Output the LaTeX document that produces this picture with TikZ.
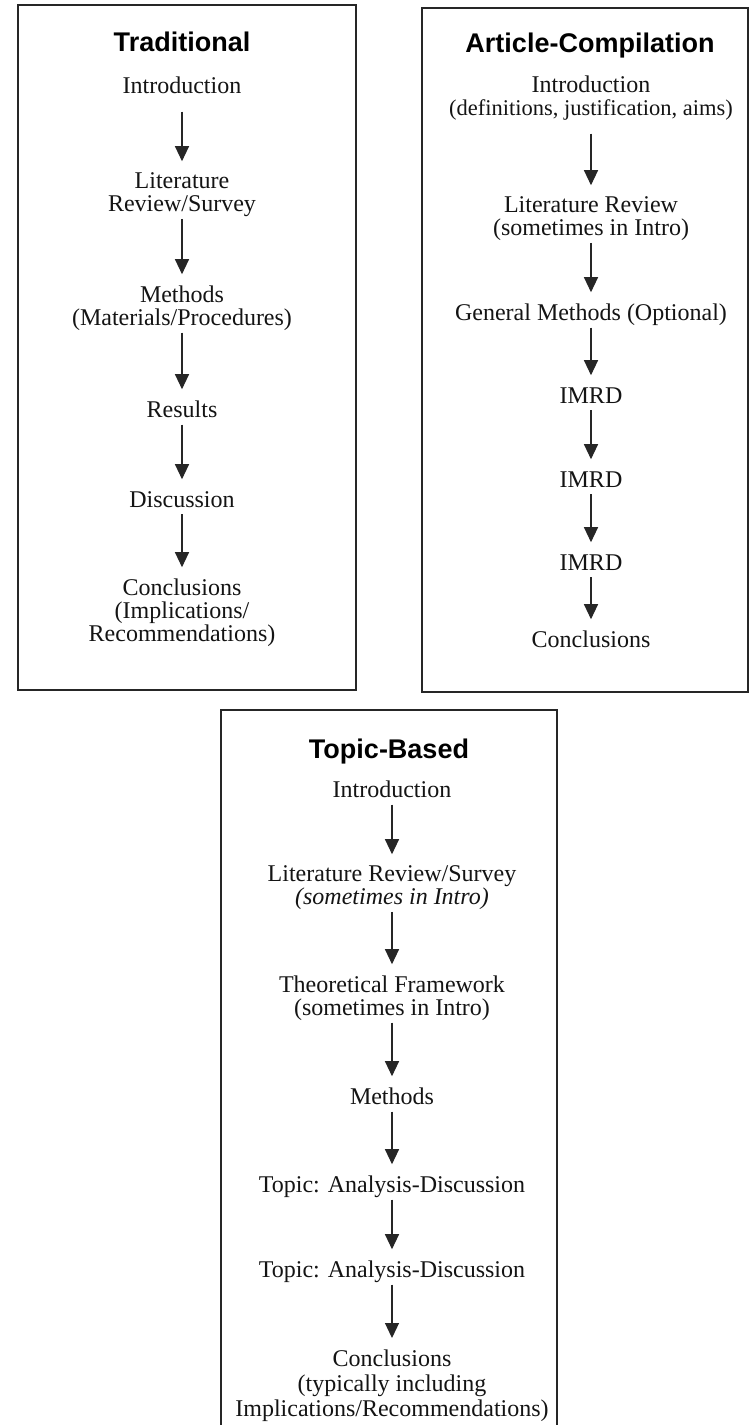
\documentclass[tikz,border=0pt]{standalone}
\usepackage{fontspec}
\setmainfont{Liberation Serif}
\newfontfamily\titlefont{Liberation Sans}
\usetikzlibrary{arrows.meta}
\begin{document}
\begin{tikzpicture}[x=1pt,y=-1pt,
  frame/.style={draw=black!85, line width=1.2pt},
  title/.style={font=\titlefont\bfseries\fontsize{27}{30}\selectfont, anchor=base, inner sep=0pt, text=black},
  item/.style={font=\fontsize{24}{23}\selectfont, align=center, anchor=north, inner sep=0pt, text=black!92,
    execute at begin node=\strut, execute at end node=\strut},
  loose/.style={font=\fontsize{24}{25}\selectfont},
  link/.style={draw=black!85, line width=1.2pt, -{Triangle[width=14pt,length=15pt]}, shorten >=11.5pt},
  farlink/.style={link, shorten <=11pt}]
\useasboundingbox (0,0) rectangle (751,1425);
\fill[white] (0,0) rectangle (751,1425);
\begin{scope}
\clip (0,0) rectangle (751,1425);
% frames
\draw[frame] (18,5) rectangle (356,690);
\draw[frame] (422,8) rectangle (748,692);
\draw[frame] (221,1445) -- (221,710) -- (557,710) -- (557,1445);

% Traditional
\node[title] (Lt) at (182,51) {Traditional};
\node[item] (L1) at (182,76.7) {Introduction};
\node[item] (L2) at (182,172.7) {Literature\\Review/Survey};
\node[item] (L3) at (182,285.7) {Methods\\(Materials/Procedures)};
\node[item] (L4) at (182,400.7) {Results};
\node[item] (L5) at (182,490.7) {Discussion};
\node[item] (L6) at (182,578.7) {Conclusions\\(Implications/\\Recommendations)};
\draw[farlink] (L1.south) -- (L2.north);
\draw[link] (L2.south) -- (L3.north);
\draw[link] (L3.south) -- (L4.north);
\draw[link] (L4.south) -- (L5.north);
\draw[link] (L5.south) -- (L6.north);

% Article-Compilation
\node[title] (Rt) at (590,52) {Article-Compilation};
\node[item] (R1) at (591,75.7) {Introduction\\{\fontsize{22.5}{23}\selectfont(definitions, justification, aims)}};
\node[item] (R2) at (591,196.7) {Literature Review\\(sometimes in Intro)};
\node[item] (R3) at (591,303.7) {General Methods (Optional)};
\node[item] (R4) at (591,386.7) {IMRD};
\node[item] (R5) at (591,470.7) {IMRD};
\node[item] (R6) at (591,553.7) {IMRD};
\node[item] (R7) at (591,630.7) {Conclusions};
\draw[farlink] (R1.south) -- (R2.north);
\draw[link] (R2.south) -- (R3.north);
\draw[link] (R3.south) -- (R4.north);
\draw[link] (R4.south) -- (R5.north);
\draw[link] (R5.south) -- (R6.north);
\draw[link] (R6.south) -- (R7.north);

% Topic-Based
\node[title] (Bt) at (389,758) {Topic-Based};
\node[item] (B1) at (392,780.7) {Introduction};
\node[item] (B2) at (392,865.7) {Literature Review/Survey\\\textit{(sometimes in Intro)}};
\node[item] (B3) at (392,975.7) {Theoretical Framework\\(sometimes in Intro)};
\node[item] (B4) at (392,1087.7) {Methods};
\node[item] (B5) at (392,1175.7) {Topic: Analysis-Discussion};
\node[item] (B6) at (392,1260.7) {Topic: Analysis-Discussion};
\node[item,loose] (B7) at (392,1349.5) {Conclusions\\(typically including\\Implications/Recommendations)};
\draw[link] (B1.south) -- (B2.north);
\draw[link] (B2.south) -- (B3.north);
\draw[link] (B3.south) -- (B4.north);
\draw[link] (B4.south) -- (B5.north);
\draw[link] (B5.south) -- (B6.north);
\draw[link] (B6.south) -- (B7.north);
\end{scope}
\end{tikzpicture}
\end{document}
